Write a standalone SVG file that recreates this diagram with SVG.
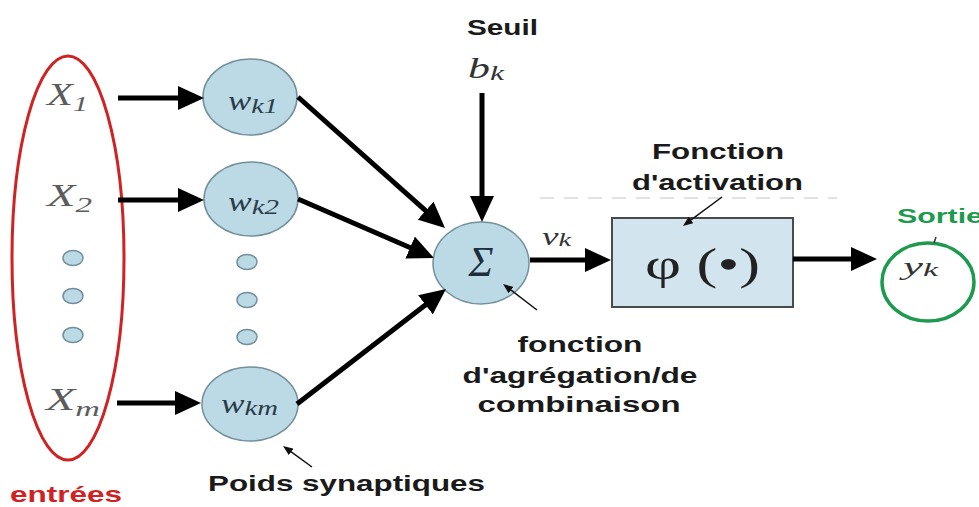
<svg xmlns="http://www.w3.org/2000/svg" width="979" height="507" viewBox="0 0 979 507">
  <style>
    .node { fill: #bcd9e6; stroke: #738f9c; stroke-width: 1.5; }
    .dot { fill: #bcd9e6; stroke: #738f9c; stroke-width: 1.5; }
    .math { font-family: "Liberation Serif", "DejaVu Serif", serif; font-style: italic; }
    .xin { fill: #5c5c5c; font-size: 31px; }
    .wlab { fill: #2a3c49; font-size: 27px; }
    .sub { font-size: 22px; }
    .lab { font-family: "Liberation Sans", Arial, sans-serif; font-weight: bold; font-size: 22px; fill: #1a1a1a; }
    .wire { stroke: #000; stroke-width: 5; fill: none; marker-end: url(#head); }
    .thin { stroke: #111; stroke-width: 1.5; fill: none; marker-end: url(#headSmall); }
  </style>
  <defs>
    <marker id="head" viewBox="0 0 26 24" markerWidth="26" markerHeight="24" markerUnits="userSpaceOnUse" refX="6" refY="12" orient="auto">
      <path d="M0,0 L26,12 L0,24 z" fill="#000"/>
    </marker>
    <marker id="headSmall" viewBox="0 0 10 8" markerWidth="10" markerHeight="8" markerUnits="userSpaceOnUse" refX="2" refY="4" orient="auto">
      <path d="M0,0 L10,4 L0,8 z" fill="#111"/>
    </marker>
  </defs>

  <rect width="979" height="507" fill="#fff"/>

  <!-- faint dashed guide above the activation box -->
  <line x1="540" y1="198" x2="837" y2="198" stroke="#e2e2e2" stroke-width="2" stroke-dasharray="14 10"/>

  <!-- input group -->
  <g id="inputs">
    <ellipse cx="68" cy="258" rx="56" ry="202" fill="none" stroke="#d02222" stroke-width="3"/>
    <text class="math xin" x="47" y="105" textLength="41" lengthAdjust="spacingAndGlyphs">X<tspan class="sub" dy="6">1</tspan></text>
    <text class="math xin" x="47" y="206" textLength="45" lengthAdjust="spacingAndGlyphs">X<tspan class="sub" dy="6">2</tspan></text>
    <ellipse class="dot" cx="73" cy="258" rx="10" ry="7.5"/>
    <ellipse class="dot" cx="73" cy="296" rx="10" ry="7.5"/>
    <ellipse class="dot" cx="73" cy="335" rx="10" ry="7.5"/>
    <text class="math xin" x="46" y="410" textLength="54" lengthAdjust="spacingAndGlyphs">X<tspan class="sub" dy="6">m</tspan></text>
    <text x="10" y="502" font-family="Liberation Sans, Arial, sans-serif" font-weight="bold" font-size="22" fill="#d02222" textLength="112" lengthAdjust="spacingAndGlyphs">entrées</text>
  </g>

  <!-- synaptic weights -->
  <g id="w-k1">
    <ellipse class="node" cx="250" cy="97" rx="47" ry="38"/>
    <text class="math wlab" x="228" y="110" textLength="50" lengthAdjust="spacingAndGlyphs">w<tspan class="sub" dy="3">k1</tspan></text>
  </g>
  <g id="w-k2">
    <ellipse class="node" cx="251" cy="199" rx="47" ry="37"/>
    <text class="math wlab" x="228" y="211" textLength="51" lengthAdjust="spacingAndGlyphs">w<tspan class="sub" dy="3">k2</tspan></text>
  </g>
  <g id="w-dots">
    <ellipse class="dot" cx="247" cy="262" rx="10" ry="7.5"/>
    <ellipse class="dot" cx="247" cy="300" rx="10" ry="7.5"/>
    <ellipse class="dot" cx="247" cy="337" rx="10" ry="7.5"/>
  </g>
  <g id="w-km">
    <ellipse class="node" cx="250" cy="404" rx="48" ry="37"/>
    <text class="math wlab" x="221" y="413" textLength="57" lengthAdjust="spacingAndGlyphs">w<tspan class="sub" dy="2">km</tspan></text>
  </g>
  <g id="weights-label">
    <text class="lab" x="208" y="491" font-size="23" textLength="277" lengthAdjust="spacingAndGlyphs">Poids synaptiques</text>
  </g>

  <!-- threshold -->
  <g id="seuil">
    <text class="lab" x="467" y="35" font-size="23" textLength="71" lengthAdjust="spacingAndGlyphs">Seuil</text>
    <text class="math" x="468" y="78" font-size="29" fill="#333" textLength="36" lengthAdjust="spacingAndGlyphs">b<tspan font-size="21" dy="2">k</tspan></text>
  </g>

  <!-- summation node -->
  <g id="sum">
    <ellipse class="node" cx="481" cy="263" rx="48" ry="41"/>
    <text class="math" x="481" y="276" font-size="42" fill="#1d2f3c" text-anchor="middle">Σ</text>
  </g>
  <g id="sum-label">
    <text class="lab" x="580" y="352" text-anchor="middle" textLength="125" lengthAdjust="spacingAndGlyphs">fonction</text>
    <text class="lab" x="580" y="383" text-anchor="middle" textLength="235" lengthAdjust="spacingAndGlyphs">d'agrégation/de</text>
    <text class="lab" x="579" y="412" text-anchor="middle" textLength="203" lengthAdjust="spacingAndGlyphs">combinaison</text>
  </g>
  <g id="vk">
    <text class="math" x="542" y="245" font-size="25" fill="#333" textLength="29" lengthAdjust="spacingAndGlyphs">v<tspan font-size="19" dy="1">k</tspan></text>
  </g>

  <!-- activation function -->
  <g id="activation">
    <rect x="612" y="218" width="181" height="89" fill="#d2e5ee" stroke="#4a4a4a" stroke-width="2"/>
    <text x="645" y="279" font-family="Liberation Serif, DejaVu Serif, serif" font-size="44" fill="#222" textLength="115" lengthAdjust="spacingAndGlyphs">φ (•)</text>
  </g>
  <g id="activation-label">
    <text class="lab" x="652" y="159" font-size="21" textLength="132" lengthAdjust="spacingAndGlyphs">Fonction</text>
    <text class="lab" x="632" y="190" font-size="21" textLength="171" lengthAdjust="spacingAndGlyphs">d'activation</text>
  </g>

  <!-- output -->
  <g id="output">
    <ellipse cx="928" cy="282" rx="46" ry="39" fill="none" stroke="#1e9a4e" stroke-width="3.5"/>
    <line x1="934" y1="243" x2="936" y2="237" stroke="#333" stroke-width="1.5"/>
    <text class="math" x="903" y="275" font-size="25" fill="#333" textLength="35" lengthAdjust="spacingAndGlyphs">y<tspan font-size="19" dy="1">k</tspan></text>
    <text x="897" y="223" font-family="Liberation Sans, Arial, sans-serif" font-weight="bold" font-size="20" fill="#1e9a4e" textLength="86" lengthAdjust="spacingAndGlyphs">Sortie</text>
  </g>

  <!-- connectors -->
  <g id="connectors">
    <line class="wire" x1="118" y1="98" x2="184" y2="98"/>
    <line class="wire" x1="118" y1="200" x2="184" y2="200"/>
    <line class="wire" x1="117" y1="403" x2="181" y2="403"/>
    <line class="wire" x1="298" y1="97" x2="430.1" y2="214.7"/>
    <line class="wire" x1="298" y1="199" x2="415.6" y2="250.0"/>
    <line class="wire" x1="297" y1="404" x2="430.2" y2="301.2"/>
    <line class="wire" x1="482" y1="93" x2="482" y2="202"/>
    <line class="wire" x1="530" y1="260" x2="591" y2="260"/>
    <line class="wire" x1="793" y1="259" x2="857" y2="259"/>
    <line class="thin" x1="722" y1="197" x2="689.4" y2="221.2"/>
    <line class="thin" x1="537" y1="310" x2="509.4" y2="288.9"/>
    <line class="thin" x1="312" y1="467" x2="289.5" y2="450.7"/>
  </g>
</svg>
